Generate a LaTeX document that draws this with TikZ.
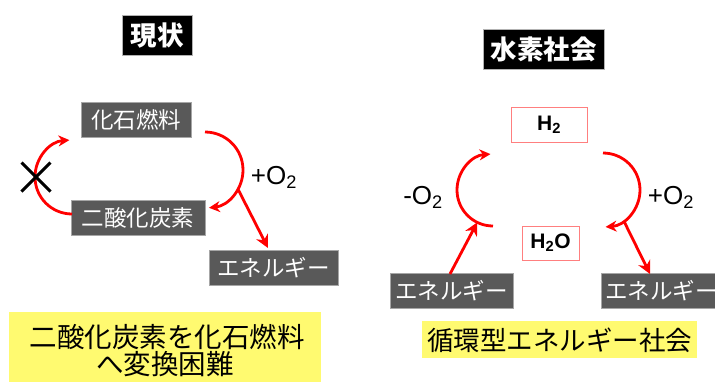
\documentclass[tikz,border=0pt]{standalone}
\usepackage{fontspec}
\setmainfont{Noto Sans CJK JP}
\newfontfamily\latinfont{Liberation Sans}
\usetikzlibrary{arrows.meta,calc}
\definecolor{boxgrey}{HTML}{595959}
\definecolor{noteyellow}{HTML}{FFFA70}
\definecolor{arrowred}{HTML}{FF0000}
\definecolor{lightred}{HTML}{FF7F7F}
\tikzset{
  greybox/.style={fill=boxgrey, draw=gray!70, line width=0.6pt, text=white, font=\fontsize{22.5}{22.5}\selectfont, inner sep=0pt, minimum height=35pt},
  titlebox/.style={fill=black, draw=gray!60, line width=0.6pt, text=white, font=\bfseries\fontsize{26.5}{26.5}\selectfont, inner sep=0pt, minimum height=40pt},
  chembox/.style={fill=white, draw=lightred, line width=1pt, font=\latinfont\bfseries\fontsize{21}{21}\selectfont, inner sep=0pt},
  notebox/.style={fill=noteyellow, inner sep=0pt},
  notetext/.style={font=\fontsize{27.5}{27.5}\selectfont, inner sep=0pt},
  oxlabel/.style={font=\latinfont\fontsize{26}{26}\selectfont, inner sep=0pt},
  cyclearrow/.style={draw=arrowred, line width=2.8pt, -{Stealth[length=11pt,width=11pt]}},
  straightarrow/.style={draw=arrowred, line width=2.8pt, -{Stealth[length=13pt,width=13pt]}},
  crossmark/.style={draw=black, line width=3pt}
}
\begin{document}
\begin{tikzpicture}[x=1pt,y=-1pt]
\clip (0,0) rectangle (715,381);
\fill[white] (0,0) rectangle (715,381);
% ---------- left: current ----------
\node[titlebox, minimum width=70pt] (titleL) at (157,35.5) {現状};
\node[greybox, minimum width=110pt] (fossil) at (136,119.5) {化石燃料};
\node[greybox, minimum width=134pt] (co2) at (138,218) {二酸化炭素};
\node[greybox, minimum width=129pt] (energyL) at (273.5,268) {エネルギー};
\node[notebox, minimum width=312pt, minimum height=75pt] (noteL) at (165,349.5) {};
\node[notetext] (noteL1) at (167,337) {二酸化炭素を化石燃料};
\node[notetext] (noteL2) at (165,364) {へ変換困難};
\node[oxlabel] (oxL) at (274,177) {+O\textsubscript{2}};
% right arc
\coordinate (cL) at (205,170);
\coordinate (aRs) at ($(cL)+(-90:38)$);
\draw[cyclearrow] (aRs) arc[start angle=-90, end angle=84, radius=38];
\coordinate (tailL) at ($(cL)+(30:38)$);
\coordinate (tipL) at (268,248);
\draw[straightarrow] (tailL) -- (tipL);
% left arc
\coordinate (cL2) at (72,177);
\coordinate (aLs) at ($(cL2)+(90:37)$);
\draw[cyclearrow] (aLs) arc[start angle=90, end angle=266, radius=37];
\coordinate (xc) at (36,177);
\draw[crossmark] ($(xc)+(-14.5,-14.5)$) -- ($(xc)+(14.5,14.5)$);
\draw[crossmark] ($(xc)+(-14.5,14.5)$) -- ($(xc)+(14.5,-14.5)$);
% ---------- right: hydrogen society ----------
\node[titlebox, minimum width=121pt] (titleR) at (543.5,49.5) {水素社会};
\node[chembox, minimum width=76pt, minimum height=35pt] (h2) at (549,124.5) {H\textsubscript{2}};
\node[chembox, minimum width=57pt, minimum height=34pt] (h2o) at (550.5,243) {H\textsubscript{2}O};
\node[greybox, minimum width=123pt] (energyR1) at (451.5,291) {エネルギー};
\node[greybox, anchor=west, minimum width=123pt, text width=115pt, align=left] (energyR2) at (601,291) {エネルギー};
\node[notebox, minimum width=275pt, minimum height=37pt] (noteR) at (559.5,339.5) {};
\node[notetext, font=\fontsize{26.5}{26.5}\selectfont] (noteR1) at (559.5,340) {循環型エネルギー社会};
\node[oxlabel] (oxR1) at (423,197) {-O\textsubscript{2}};
\node[oxlabel] (oxR2) at (671,197) {+O\textsubscript{2}};
% left arc
\coordinate (cR1) at (493,190);
\draw[cyclearrow] ($(cR1)+(90:36)$) arc[start angle=90, end angle=266, radius=36];
\coordinate (tipR1) at ($(cR1)+(116:36)$);
\coordinate (tailR1) at (450,274);
\draw[straightarrow] (tailR1) -- (tipR1);
% right arc
\coordinate (cR2) at (603,190);
\draw[cyclearrow] ($(cR2)+(-90:37)$) arc[start angle=-90, end angle=86, radius=37];
\coordinate (tailR2) at ($(cR2)+(56:37)$);
\coordinate (tipR2) at (650,274);
\draw[straightarrow] (tailR2) -- (tipR2);
\end{tikzpicture}
\end{document}
